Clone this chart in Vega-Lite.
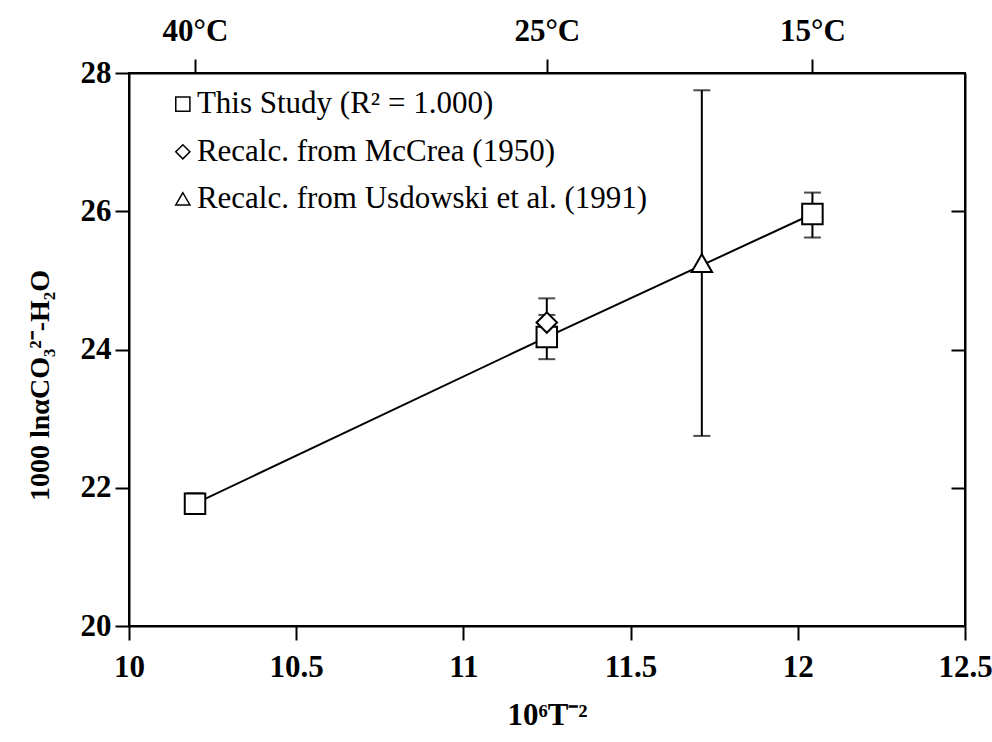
{
  "$schema": "https://vega.github.io/schema/vega-lite/v6.json",
  "width": 836,
  "height": 553,
  "autosize": "none",
  "padding": {"left": 129, "top": 73, "right": 27, "bottom": 116},
  "background": "white",
  "config": {
    "font": "Liberation Serif",
    "view": {"stroke": "black", "strokeWidth": 2},
    "axis": {
      "grid": false,
      "domainColor": "black",
      "domainWidth": 2,
      "tickColor": "black",
      "tickWidth": 2,
      "tickSize": 14,
      "labelFont": "Liberation Serif",
      "labelFontWeight": "bold",
      "labelFontSize": 31,
      "labelColor": "black",
      "titleFont": "Liberation Serif",
      "titleFontWeight": "bold",
      "titleFontSize": 28,
      "titleColor": "black"
    }
  },
  "datasets": {
    "study": [
      {"x": 10.1974, "y": 21.77},
      {"x": 11.2494, "y": 24.18},
      {"x": 12.0437, "y": 25.96}
    ],
    "pts": [
      {"series": "This Study (R² = 1.000)", "x": 10.1974, "y": 21.77, "lo": 21.62, "hi": 21.92},
      {"series": "This Study (R² = 1.000)", "x": 11.2494, "y": 24.18, "lo": 23.86, "hi": 24.5},
      {"series": "This Study (R² = 1.000)", "x": 12.0437, "y": 25.96, "lo": 25.62, "hi": 26.27},
      {"series": "Recalc. from McCrea (1950)", "x": 11.2494, "y": 24.39, "lo": 24.04, "hi": 24.74},
      {"series": "Recalc. from Usdowski et al. (1991)", "x": 11.713, "y": 25.25, "lo": 22.75, "hi": 27.75}
    ],
    "leg1": [{"label": "This Study (R² = 1.000)"}],
    "leg2": [{"label": "Recalc. from McCrea (1950)"}],
    "leg3": [{"label": "Recalc. from Usdowski et al. (1991)"}]
  },
  "resolve": {"axis": {"x": "independent", "y": "independent"}},
  "layer": [
    {
      "data": {"name": "study"},
      "mark": {"type": "line", "color": "black", "strokeWidth": 2},
      "encoding": {
        "x": {
          "field": "x", "type": "quantitative",
          "scale": {"domain": [10, 12.5], "nice": false, "zero": false},
          "axis": {"orient": "bottom", "values": [10, 10.5, 11, 11.5, 12, 12.5], "labelExpr": "datum.value + ''", "labelPadding": 12, "title": "10⁶T⁻²", "titleFontSize": 31, "titlePadding": 18, "labelFlush": false}
        },
        "y": {
          "field": "y", "type": "quantitative",
          "scale": {"domain": [20, 28], "nice": false, "zero": false},
          "axis": {"orient": "left", "values": [20, 22, 24, 26, 28], "labelPadding": 4, "title": "1000 lnαCO₃²⁻-H₂O", "titlePadding": 26, "titleY": 312, "labelFlush": false}
        }
      }
    },
    {
      "data": {"name": "pts"},
      "mark": {"type": "rule", "color": "black", "strokeWidth": 2},
      "encoding": {
        "x": {
          "field": "x", "type": "quantitative",
          "scale": {"domain": [10, 12.5], "nice": false, "zero": false},
          "axis": {"orient": "top", "values": [10.1974, 11.2494, 12.0437], "labelExpr": "datum.value < 10.5 ? '40°C' : (datum.value < 11.5 ? '25°C' : '15°C')", "labelPadding": 12, "title": null, "domain": true}
        },
        "y": {
          "field": "lo", "type": "quantitative",
          "scale": {"domain": [20, 28], "nice": false, "zero": false},
          "axis": {"orient": "right", "values": [22, 24, 26], "labels": false, "tickSize": -14, "title": null}
        },
        "y2": {"field": "hi"}
      }
    },
    {
      "data": {"name": "pts"},
      "mark": {"type": "tick", "orient": "horizontal", "color": "black", "size": 17, "thickness": 2},
      "encoding": {
        "x": {"field": "x", "type": "quantitative", "axis": null},
        "y": {"field": "lo", "type": "quantitative", "axis": null}
      }
    },
    {
      "data": {"name": "pts"},
      "mark": {"type": "tick", "orient": "horizontal", "color": "black", "size": 17, "thickness": 2},
      "encoding": {
        "x": {"field": "x", "type": "quantitative", "axis": null},
        "y": {"field": "hi", "type": "quantitative", "axis": null}
      }
    },
    {
      "data": {"name": "pts"},
      "mark": {"type": "point", "filled": false, "color": "black", "fill": "white", "fillOpacity": 1, "strokeWidth": 2, "size": 420},
      "encoding": {
        "x": {"field": "x", "type": "quantitative", "axis": null},
        "y": {"field": "y", "type": "quantitative", "axis": null},
        "shape": {
          "field": "series", "type": "nominal",
          "scale": {
            "domain": ["This Study (R² = 1.000)", "Recalc. from McCrea (1950)", "Recalc. from Usdowski et al. (1991)"],
            "range": ["square", "diamond", "triangle-up"]
          },
          "legend": null
        }
      }
    },
    {
      "data": {"name": "leg1"},
      "mark": {"type": "point", "shape": "square", "filled": false, "color": "black", "fill": "white", "fillOpacity": 1, "strokeWidth": 1.5, "size": 200},
      "encoding": {"x": {"datum": 10.161, "type": "quantitative", "axis": null}, "y": {"datum": 27.55, "type": "quantitative", "axis": null}}
    },
    {
      "data": {"name": "leg2"},
      "mark": {"type": "point", "shape": "diamond", "filled": false, "color": "black", "fill": "white", "fillOpacity": 1, "strokeWidth": 1.5, "size": 200},
      "encoding": {"x": {"datum": 10.161, "type": "quantitative", "axis": null}, "y": {"datum": 26.86, "type": "quantitative", "axis": null}}
    },
    {
      "data": {"name": "leg3"},
      "mark": {"type": "point", "shape": "triangle-up", "filled": false, "color": "black", "fill": "white", "fillOpacity": 1, "strokeWidth": 1.5, "size": 200},
      "encoding": {"x": {"datum": 10.161, "type": "quantitative", "axis": null}, "y": {"datum": 26.18, "type": "quantitative", "axis": null}}
    },
    {
      "data": {"name": "leg1"},
      "mark": {"type": "text", "align": "left", "baseline": "middle", "font": "Liberation Serif", "fontSize": 31, "color": "black"},
      "encoding": {"x": {"datum": 10.203, "type": "quantitative", "axis": null}, "y": {"datum": 27.55, "type": "quantitative", "axis": null}, "text": {"field": "label"}}
    },
    {
      "data": {"name": "leg2"},
      "mark": {"type": "text", "align": "left", "baseline": "middle", "font": "Liberation Serif", "fontSize": 31, "color": "black"},
      "encoding": {"x": {"datum": 10.203, "type": "quantitative", "axis": null}, "y": {"datum": 26.86, "type": "quantitative", "axis": null}, "text": {"field": "label"}}
    },
    {
      "data": {"name": "leg3"},
      "mark": {"type": "text", "align": "left", "baseline": "middle", "font": "Liberation Serif", "fontSize": 31, "color": "black"},
      "encoding": {"x": {"datum": 10.203, "type": "quantitative", "axis": null}, "y": {"datum": 26.18, "type": "quantitative", "axis": null}, "text": {"field": "label"}}
    }
  ]
}
